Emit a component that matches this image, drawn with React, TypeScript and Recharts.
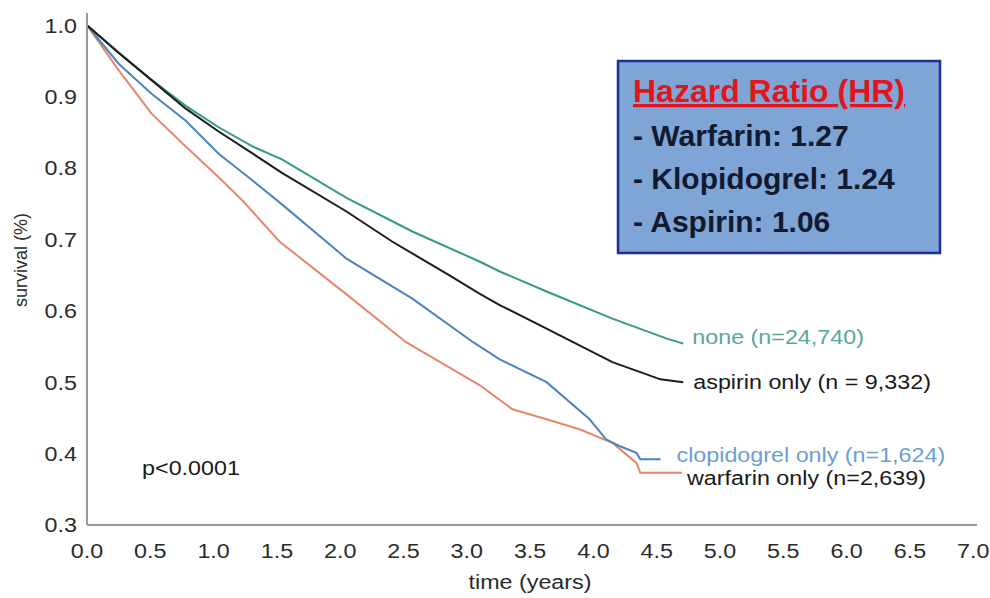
import { LineChart, Line, XAxis, YAxis, ReferenceDot } from 'recharts';

// Kaplan-Meier survival (time in years, survival fraction)
const noneT = [0, 0.25, 0.5, 0.78, 1.04, 1.31, 1.54, 2.05, 2.57, 3.1, 3.26, 3.63, 4.15, 4.58, 4.71];
const noneS = [1.0, 0.962, 0.925, 0.887, 0.857, 0.83, 0.812, 0.758, 0.711, 0.669, 0.655, 0.627, 0.589, 0.561, 0.554];

const aspirinT = [0, 0.25, 0.51, 0.78, 1.04, 1.31, 1.54, 2.05, 2.41, 2.84, 3.1, 3.26, 3.63, 4.15, 4.53, 4.71];
const aspirinS = [1.0, 0.961, 0.923, 0.883, 0.851, 0.82, 0.793, 0.739, 0.697, 0.652, 0.624, 0.608, 0.575, 0.528, 0.504, 0.5];

const clopidogrelT = [0, 0.25, 0.51, 0.78, 1.04, 1.31, 1.54, 2.05, 2.57, 3.05, 3.26, 3.63, 3.97, 4.1, 4.2, 4.34, 4.37, 4.53];
const clopidogrelS = [1.0, 0.946, 0.904, 0.866, 0.82, 0.782, 0.749, 0.673, 0.617, 0.556, 0.532, 0.5, 0.448, 0.42, 0.411, 0.401, 0.392, 0.392];

const warfarinT = [0, 0.25, 0.51, 0.78, 1.04, 1.23, 1.52, 2.05, 2.52, 3.1, 3.36, 3.63, 3.89, 4.15, 4.34, 4.37, 4.7];
const warfarinS = [1.0, 0.937, 0.876, 0.83, 0.787, 0.754, 0.697, 0.623, 0.556, 0.496, 0.462, 0.448, 0.434, 0.415, 0.387, 0.373, 0.373];

const xTicks = [0, 0.5, 1, 1.5, 2, 2.5, 3, 3.5, 4, 4.5, 5, 5.5, 6, 6.5, 7];
const yTicks = [0.3, 0.4, 0.5, 0.6, 0.7, 0.8, 0.9, 1.0];

const hrTitle = 'Hazard Ratio (HR)';
const hrLines = ['- Warfarin: 1.27', '- Klopidogrel: 1.24', '- Aspirin: 1.06'];

const FONT = '"Liberation Sans", Arial, sans-serif';
const SX = 1.11; // the source image is a bit stretched sideways

const toRows = (ts: number[], ss: number[]) => ts.map((t, i) => ({ t, s: ss[i] }));

const endLabel = (text: string, color: string, n: number, dx: number, dy: number) => (props: any) => {
  if (props.index !== n - 1) return <g key={`l-${props.index}`} />;
  return (
    <text
      key="end"
      transform={`translate(${props.x + dx},${props.y + dy}) scale(${SX},1)`}
      fill={color}
      fontSize={21}
      fontFamily={FONT}
    >
      {text}
    </text>
  );
};

const XTick = (p: any) => (
  <text
    transform={`translate(${p.x},${p.y}) scale(${SX},1)`}
    dy="0.71em"
    textAnchor="middle"
    fontSize={21}
    fill="#2b2b2b"
    fontFamily={FONT}
  >
    {Number(p.payload.value).toFixed(1)}
  </text>
);

const YTick = (p: any) => (
  <text
    transform={`translate(${p.x},${p.y}) scale(${SX},1)`}
    dy="0.355em"
    textAnchor="end"
    fontSize={21}
    fill="#2b2b2b"
    fontFamily={FONT}
  >
    {Number(p.payload.value).toFixed(1)}
  </text>
);

export default function App() {
  return (
    <div style={{ position: 'absolute', left: 0, top: 0, width: 990, height: 598, background: '#fff' }}>
      <LineChart width={990} height={598} margin={{ top: 13, right: 13, bottom: 0, left: 0 }}>
        <XAxis
          dataKey="t"
          type="number"
          domain={[0, 7.03]}
          ticks={xTicks}
          height={73}
          tickLine={false}
          tickSize={10}
          tickMargin={8}
          axisLine={{ stroke: '#9a9a9a', strokeWidth: 2 }}
          tick={<XTick />}
          allowDataOverflow
        />
        <XAxis xAxisId="top" orientation="top" type="number" domain={[0, 7.03]} height={0} tick={false} tickLine={false} axisLine={{ stroke: '#a8a8a8', strokeWidth: 2 }} />
        <YAxis
          type="number"
          domain={[0.3, 1.017]}
          ticks={yTicks}
          width={87}
          tickLine={false}
          tickSize={8}
          tickMargin={2}
          axisLine={{ stroke: '#9a9a9a', strokeWidth: 2 }}
          tick={<YTick />}
          allowDataOverflow
        />
        <YAxis yAxisId="right" orientation="right" type="number" domain={[0.3, 1.017]} width={0} tick={false} tickLine={false} axisLine={{ stroke: '#a8a8a8', strokeWidth: 2 }} />

        <Line
          data={toRows(warfarinT, warfarinS)}
          dataKey="s"
          type="linear"
          stroke="#e8866c"
          strokeWidth={2}
          dot={false}
          isAnimationActive={false}
          label={endLabel('warfarin only (n=2,639)', '#1a1a1a', warfarinT.length, 5, 12)}
        />
        <Line
          data={toRows(clopidogrelT, clopidogrelS)}
          dataKey="s"
          type="linear"
          stroke="#4a84bd"
          strokeWidth={2}
          dot={false}
          isAnimationActive={false}
          label={endLabel('clopidogrel only (n=1,624)', '#6a9fd0', clopidogrelT.length, 16, 3)}
        />
        <Line
          data={toRows(noneT, noneS)}
          dataKey="s"
          type="linear"
          stroke="#349a84"
          strokeWidth={2}
          dot={false}
          isAnimationActive={false}
          label={endLabel('none (n=24,740)', '#5aa79a', noneT.length, 9, 0)}
        />
        <Line
          data={toRows(aspirinT, aspirinS)}
          dataKey="s"
          type="linear"
          stroke="#1c1c1c"
          strokeWidth={2}
          dot={false}
          isAnimationActive={false}
          label={endLabel('aspirin only (n = 9,332)', '#1a1a1a', aspirinT.length, 10, 7)}
        />
        <ReferenceDot
          x={0.435}
          y={0.37}
          r={0}
          shape={(p: any) => (
            <text transform={`translate(${p.cx},${p.cy}) scale(${SX},1)`} fontSize={21} fill="#1a1a1a" fontFamily={FONT}>
              p&lt;0.0001
            </text>
          )}
        />
      </LineChart>

      <svg width={990} height={598} style={{ position: 'absolute', left: 0, top: 0, pointerEvents: 'none' }}>
        <text
          transform="translate(27,260) rotate(-90)"
          textAnchor="middle"
          fontSize={18}
          fill="#2b2b2b"
          fontFamily={FONT}
        >
          survival (%)
        </text>
        <text transform={`translate(530,589) scale(${SX},1)`} textAnchor="middle" fontSize={21} fill="#2b2b2b" fontFamily={FONT}>
          time (years)
        </text>

        <rect x={618} y={61} width={322} height={192} fill="#7ea5d6" stroke="#1f2f9a" strokeWidth={2.5} />
        <text x={633} y={102} fontSize={32} fontWeight="bold" fill="#e3141b" fontFamily={FONT} textDecoration="underline">
          {hrTitle}
        </text>
        {hrLines.map((l, i) => (
          <text key={l} x={633} y={146 + i * 43} fontSize={30} fontWeight="bold" fill="#111a2e" fontFamily={FONT}>
            {l}
          </text>
        ))}
      </svg>
    </div>
  );
}
